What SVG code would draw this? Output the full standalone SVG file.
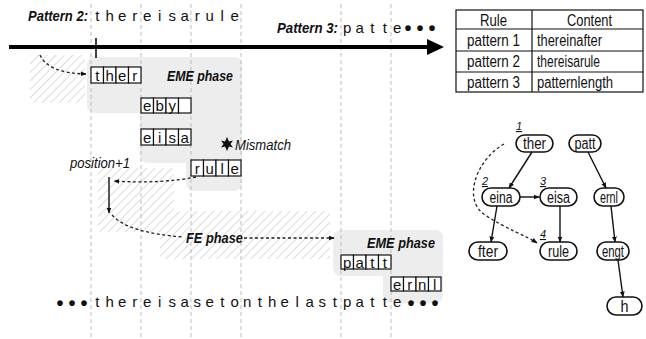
<svg xmlns="http://www.w3.org/2000/svg" width="646" height="339" viewBox="0 0 646 339">
<style>
text{font-family:"Liberation Sans",Arial,sans-serif;fill:#111}
.lbl{font-weight:bold;font-style:italic;font-size:15px}
.it{font-style:italic;font-size:14px}
.seq{font-size:15px;text-anchor:middle}
.dots{font-size:20px;font-weight:bold;text-anchor:middle}
.cell{fill:#fff;stroke:#111;stroke-width:1.2}
.ct{font-size:15px;text-anchor:middle}
.gray{fill:#ededed}
.vline{stroke:#bdbdbd;stroke-width:1;stroke-dasharray:4 3}
.dash{fill:none;stroke:#222;stroke-width:1.3;stroke-dasharray:3 2.5}
.solid{fill:none;stroke:#111;stroke-width:1.4}
.node rect{fill:#fff;stroke:#111;stroke-width:1.6}
.nt{font-size:16px}
.num{font-size:11px;font-style:italic;text-decoration:underline;text-anchor:middle}
.tt{font-size:16px}
</style>
<defs>
<pattern id="hatch" patternUnits="userSpaceOnUse" width="6" height="6" patternTransform="rotate(45)">
<line x1="0" y1="0" x2="0" y2="6" stroke="#c4c4c4" stroke-width="1.2"/>
</pattern>
<marker id="ah" viewBox="0 0 10 10" refX="9" refY="5" markerWidth="6" markerHeight="6" orient="auto" markerUnits="userSpaceOnUse">
<path d="M0,1 L10,5 L0,9 Z" fill="#111"/>
</marker>
</defs>

<g id="background">
<rect x="30" y="55" width="55" height="48" fill="url(#hatch)"/>
<polygon points="98,168 174,168 174,211 330,211 330,259 160,259 160,232 98,232" fill="url(#hatch)"/>
<g id="eme1-bg">
<rect class="gray" x="87" y="57" width="155" height="56" rx="8"/>
<rect class="gray" x="140" y="57" width="102" height="106" rx="8"/>
<rect class="gray" x="186" y="57" width="56" height="134" rx="8"/>
</g>
<g id="eme2-bg">
<rect class="gray" x="333" y="230" width="110" height="46" rx="8"/>
<rect class="gray" x="383" y="230" width="60" height="73" rx="8"/>
</g>
<line class="vline" x1="91" y1="4" x2="91" y2="339"/>
<line class="vline" x1="141" y1="4" x2="141" y2="339"/>
<line class="vline" x1="191" y1="4" x2="191" y2="339"/>
<line class="vline" x1="241" y1="4" x2="241" y2="339"/>
<line class="vline" x1="341" y1="4" x2="341" y2="339"/>
<line class="vline" x1="391" y1="4" x2="391" y2="339"/>
</g>

<g id="timeline">
<line x1="9" y1="47" x2="430" y2="47" stroke="#000" stroke-width="4"/>
<polygon points="427,39 444,47 427,55" fill="#000"/>
<line x1="96" y1="38" x2="96" y2="58" stroke="#000" stroke-width="1.5"/>
<text class="lbl" x="28" y="21" textLength="60" lengthAdjust="spacingAndGlyphs">Pattern 2:</text>
<text class="seq" y="21" x="97.25 109.75 122.25 134.75 147.25 159.75 172.25 184.75 197.25 209.75 222.25 234.75">thereisarule</text>
<text class="lbl" x="277" y="33" textLength="61" lengthAdjust="spacingAndGlyphs">Pattern 3:</text>
<text class="seq" y="33" x="347.25 359.75 372.25 384.75 397.25">patte</text>
<text class="dots" y="35" x="408 420 432">•••</text>
</g>

<g id="table">
<rect x="456" y="10" width="187" height="82" fill="#fff" stroke="#111" stroke-width="1.2"/>
<line x1="532" y1="10" x2="532" y2="92" stroke="#111" stroke-width="1.2"/>
<line x1="456" y1="29" x2="643" y2="29" stroke="#111" stroke-width="1.2"/>
<line x1="456" y1="51" x2="643" y2="51" stroke="#111" stroke-width="1.2"/>
<line x1="456" y1="72" x2="643" y2="72" stroke="#111" stroke-width="1.2"/>
<text class="tt" x="480" y="26" textLength="27" lengthAdjust="spacingAndGlyphs">Rule</text>
<text class="tt" x="567" y="26" textLength="45" lengthAdjust="spacingAndGlyphs">Content</text>
<text class="tt" x="467" y="46" textLength="53" lengthAdjust="spacingAndGlyphs">pattern 1</text>
<text class="tt" x="537" y="46" textLength="65" lengthAdjust="spacingAndGlyphs">thereinafter</text>
<text class="tt" x="467" y="67" textLength="53" lengthAdjust="spacingAndGlyphs">pattern 2</text>
<text class="tt" x="537" y="67" textLength="63" lengthAdjust="spacingAndGlyphs">thereisarule</text>
<text class="tt" x="467" y="88" textLength="53" lengthAdjust="spacingAndGlyphs">pattern 3</text>
<text class="tt" x="537" y="88" textLength="76" lengthAdjust="spacingAndGlyphs">patternlength</text>
</g>

<g id="eme1">
<text class="lbl" x="167" y="81" textLength="66" lengthAdjust="spacingAndGlyphs">EME phase</text>
<g id="cells-ther">
<rect class="cell" x="91" y="67" width="12.5" height="16"/><rect class="cell" x="103.5" y="67" width="12.5" height="16"/><rect class="cell" x="116" y="67" width="12.5" height="16"/><rect class="cell" x="128.5" y="67" width="12.5" height="16"/>
<text class="ct" y="80.5" x="97.25 109.75 122.25 134.75">ther</text>
</g>
<g id="cells-eby">
<rect class="cell" x="141" y="98" width="12.5" height="15"/><rect class="cell" x="153.5" y="98" width="12.5" height="15"/><rect class="cell" x="166" y="98" width="12.5" height="15"/><rect class="cell" x="178.5" y="98" width="12.5" height="15"/>
<text class="ct" y="110.5" x="147.25 159.75 172.25">eby</text>
</g>
<g id="cells-eisa">
<rect class="cell" x="141" y="129" width="12.5" height="16"/><rect class="cell" x="153.5" y="129" width="12.5" height="16"/><rect class="cell" x="166" y="129" width="12.5" height="16"/><rect class="cell" x="178.5" y="129" width="12.5" height="16"/>
<text class="ct" y="142.5" x="147.25 159.75 172.25 184.75">eisa</text>
</g>
<g id="cells-rule">
<rect class="cell" x="191" y="160" width="12.5" height="16"/><rect class="cell" x="203.5" y="160" width="12.5" height="16"/><rect class="cell" x="216" y="160" width="12.5" height="16"/><rect class="cell" x="228.5" y="160" width="12.5" height="16"/>
<text class="ct" y="173.5" x="197.25 209.75 222.25 234.75">rule</text>
</g>
<polygon points="227,137 229,141.5 233,140.5 230.5,144 233,147.5 229,146.5 227,151 225,146.5 221,147.5 223.5,144 221,140.5 225,141.5" fill="#111"/>
<text class="it" x="235" y="150" textLength="56" lengthAdjust="spacingAndGlyphs">Mismatch</text>
<text class="it" x="70" y="168" textLength="60" lengthAdjust="spacingAndGlyphs">position+1</text>
</g>

<g id="fe">
<text class="lbl" x="186" y="243" textLength="57" lengthAdjust="spacingAndGlyphs">FE phase</text>
</g>

<g id="eme2">
<text class="lbl" x="367" y="248" textLength="68" lengthAdjust="spacingAndGlyphs">EME phase</text>
<g id="cells-patt">
<rect class="cell" x="341" y="255" width="12.5" height="14"/><rect class="cell" x="353.5" y="255" width="12.5" height="14"/><rect class="cell" x="366" y="255" width="12.5" height="14"/><rect class="cell" x="378.5" y="255" width="12.5" height="14"/>
<text class="ct" y="267.5" x="347.25 359.75 372.25 384.75">patt</text>
</g>
<g id="cells-ernl">
<rect class="cell" x="391" y="277" width="12.5" height="14"/><rect class="cell" x="403.5" y="277" width="12.5" height="14"/><rect class="cell" x="416" y="277" width="12.5" height="14"/><rect class="cell" x="428.5" y="277" width="12.5" height="14"/>
<text class="ct" y="289.5" x="397.25 409.75 422.25 434.75">ernl</text>
</g>
</g>

<g id="bottom-seq">
<text class="dots" y="310" x="60 72 84">•••</text>
<text class="seq" y="307" x="97.25 109.75 122.25 134.75 147.25 159.75 172.25 184.75 197.25 209.75 222.25 234.75 247.25 259.75 272.25 284.75 297.25 309.75 322.25 334.75 347.25 359.75 372.25 384.75 397.25">thereisasetonthelastpatte</text>
<text class="dots" y="310" x="411 423 435">•••</text>
</g>

<g id="tree">
<g id="n-ther" class="node"><rect x="516" y="135" width="37" height="17" rx="8.5"/><text class="nt" x="523" y="149" textLength="23" lengthAdjust="spacingAndGlyphs">ther</text></g>
<g id="n-patt" class="node"><rect x="569" y="135" width="32" height="17" rx="8.5"/><text class="nt" x="574.5" y="149" textLength="21" lengthAdjust="spacingAndGlyphs">patt</text></g>
<g id="n-eina" class="node"><rect x="482" y="188" width="38" height="18" rx="9"/><text class="nt" x="489.5" y="202.5" textLength="23" lengthAdjust="spacingAndGlyphs">eina</text></g>
<g id="n-eisa" class="node"><rect x="540" y="188" width="37" height="18" rx="9"/><text class="nt" x="547" y="202.5" textLength="23" lengthAdjust="spacingAndGlyphs">eisa</text></g>
<g id="n-ernl" class="node"><rect x="594" y="188" width="30" height="18" rx="9"/><text class="nt" x="600" y="202.5" textLength="18" lengthAdjust="spacingAndGlyphs">ernl</text></g>
<g id="n-fter" class="node"><rect x="469" y="242" width="38" height="18" rx="9"/><text class="nt" x="478" y="256.5" textLength="20" lengthAdjust="spacingAndGlyphs">fter</text></g>
<g id="n-rule" class="node"><rect x="540" y="242" width="37" height="18" rx="9"/><text class="nt" x="548" y="256.5" textLength="21" lengthAdjust="spacingAndGlyphs">rule</text></g>
<g id="n-engt" class="node"><rect x="597" y="242" width="32" height="18" rx="9"/><text class="nt" x="602" y="256.5" textLength="22" lengthAdjust="spacingAndGlyphs">engt</text></g>
<g id="n-h" class="node"><rect x="607" y="297" width="35" height="18" rx="9"/><text class="nt" x="620.5" y="311.5" textLength="8" lengthAdjust="spacingAndGlyphs">h</text></g>
<text class="num" x="519" y="130">1</text>
<text class="num" x="485" y="185">2</text>
<text class="num" x="543" y="185">3</text>
<text class="num" x="543" y="238">4</text>
</g>

<g id="connectors">
<path class="dash" d="M40,55 Q48,73 86,74" marker-end="url(#ah)"/>
<path class="dash" d="M196,177 Q160,184 114,181" marker-end="url(#ah)"/>
<path class="solid" d="M109,177 L109,213" marker-end="url(#ah)"/>
<path class="dash" d="M112,215 Q128,233 184,237"/>
<path class="dash" d="M244,238 L334,238" marker-end="url(#ah)"/>
<path class="solid" d="M532,152 L509,188" marker-end="url(#ah)"/>
<path class="solid" d="M520,197 L539,197" stroke-width="2.2" marker-end="url(#ah)"/>
<path class="solid" d="M497,206 L491,242" marker-end="url(#ah)"/>
<path class="solid" d="M560,206 L560,242" marker-end="url(#ah)"/>
<path class="solid" d="M588,152 L606,188" marker-end="url(#ah)"/>
<path class="solid" d="M611,206 L615,242" marker-end="url(#ah)"/>
<path class="solid" d="M618,260 L623,297" marker-end="url(#ah)"/>
<path class="dash" d="M504,144 C476,160 462,200 485,215 S525,235 537,243" marker-end="url(#ah)"/>
</g>
</svg>
